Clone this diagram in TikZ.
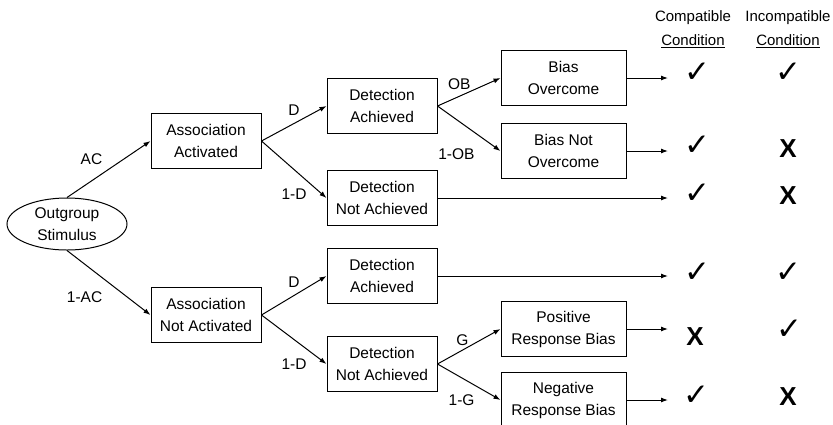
\documentclass[tikz,border=0pt]{standalone}
\usepackage{fontspec}
\setmainfont{Liberation Sans}
\newfontfamily\symfont{DejaVu Sans}
\usetikzlibrary{arrows.meta,positioning,shapes.geometric}
\tikzset{
  >={Latex[length=7pt,width=5pt]},
  block/.style={draw,line width=1pt,align=center,minimum width=110pt,minimum height=55pt,inner sep=1pt,font=\fontsize{15.5}{22}\selectfont},
  wide/.style={block,minimum width=125pt},
  arrow/.style={->,line width=1pt},
  lbl/.style={font=\fontsize{15.5}{18}\selectfont,inner sep=2pt},
  head/.style={align=center,font=\fontsize{15}{24}\selectfont},
  yes/.style={font=\symfont\bfseries\fontsize{31}{31}\selectfont,inner sep=0pt},
  no/.style={font=\bfseries\fontsize{26}{26}\selectfont,inner sep=0pt},
}
\begin{document}
\begin{tikzpicture}[x=1pt,y=-1pt]
  \useasboundingbox (0,0) rectangle (833,424);
  % tree
  \node[draw,ellipse,line width=1pt,minimum width=120pt,minimum height=52pt,inner sep=0pt,align=center,font=\fontsize{15.5}{22}\selectfont] (stim) at (67,224) {Outgroup\\Stimulus};
  \node[block] (act) at (206,141) {Association\\Activated};
  \node[block] (nact) at (206,315) {Association\\Not Activated};
  \node[block] (detA) at (382,106) {Detection\\Achieved};
  \node[block] (ndetA) at (382,198) {Detection\\Not Achieved};
  \node[block] (detB) at (382,276) {Detection\\Achieved};
  \node[block] (ndetB) at (382,364) {Detection\\Not Achieved};
  \node[wide] (over) at (563.5,78) {Bias\\Overcome};
  \node[wide] (nover) at (563.5,151) {Bias Not\\Overcome};
  \node[wide] (pos) at (563.5,329) {Positive\\Response Bias};
  \node[wide] (neg) at (563.5,400) {Negative\\Response Bias};
  % outcome columns
  \node[head] (hcomp) at (693,29) {Compatible\\\underline{Condition}};
  \node[head] (hinc) at (788,29) {Incompatible\\\underline{Condition}};
  \coordinate (e1) at (668,78);
  \coordinate (e2) at (668,151);
  \coordinate (e3) at (668,198);
  \coordinate (e4) at (668,276);
  \coordinate (e5) at (668,329);
  \coordinate (e6) at (668,400);
  \node[yes] (c1) at (697,73) {✓};
  \node[yes] (c2) at (697,146) {✓};
  \node[yes] (c3) at (697,194) {✓};
  \node[yes] (c4) at (697,273) {✓};
  \node[no] (c5) at (695,337) {X};
  \node[yes] (c6) at (696,396) {✓};
  \node[yes] (i1) at (788,73) {✓};
  \node[no] (i2) at (788,149) {X};
  \node[no] (i3) at (788,196) {X};
  \node[yes] (i4) at (788,273) {✓};
  \node[yes] (i5) at (789,330) {✓};
  \node[no] (i6) at (788,397) {X};
  % branches
  \draw[arrow] (stim.north) -- node[lbl,above left=2pt and 4pt] {AC} (act.west);
  \draw[arrow] (stim.south) -- node[lbl,below left=6pt and 4pt] {1-AC} (nact.west);
  \draw[arrow] (act.east) -- node[lbl,above=6pt] {D} (detA.west);
  \draw[arrow] (act.east) -- node[lbl,below=17pt] {1-D} (ndetA.west);
  \draw[arrow] (nact.east) -- node[lbl,above=6pt] {D} (detB.west);
  \draw[arrow] (nact.east) -- node[lbl,below=17pt] {1-D} (ndetB.west);
  \draw[arrow] (detA.east) -- node[lbl,above left=0pt and -4pt] {OB} (over.west);
  \draw[arrow] (detA.east) -- node[lbl,below left=18pt and -8pt] {1-OB} (nover.west);
  \draw[arrow] (ndetB.east) -- node[lbl,above left=-2pt and -2pt] {G} (pos.west);
  \draw[arrow] (ndetB.east) -- node[lbl,below left=10pt and -8pt] {1-G} (neg.west);
  \draw[arrow] (over) -- (e1);
  \draw[arrow] (nover) -- (e2);
  \draw[arrow] (ndetA) -- (e3);
  \draw[arrow] (detB) -- (e4);
  \draw[arrow] (pos) -- (e5);
  \draw[arrow] (neg) -- (e6);
\end{tikzpicture}
\end{document}
